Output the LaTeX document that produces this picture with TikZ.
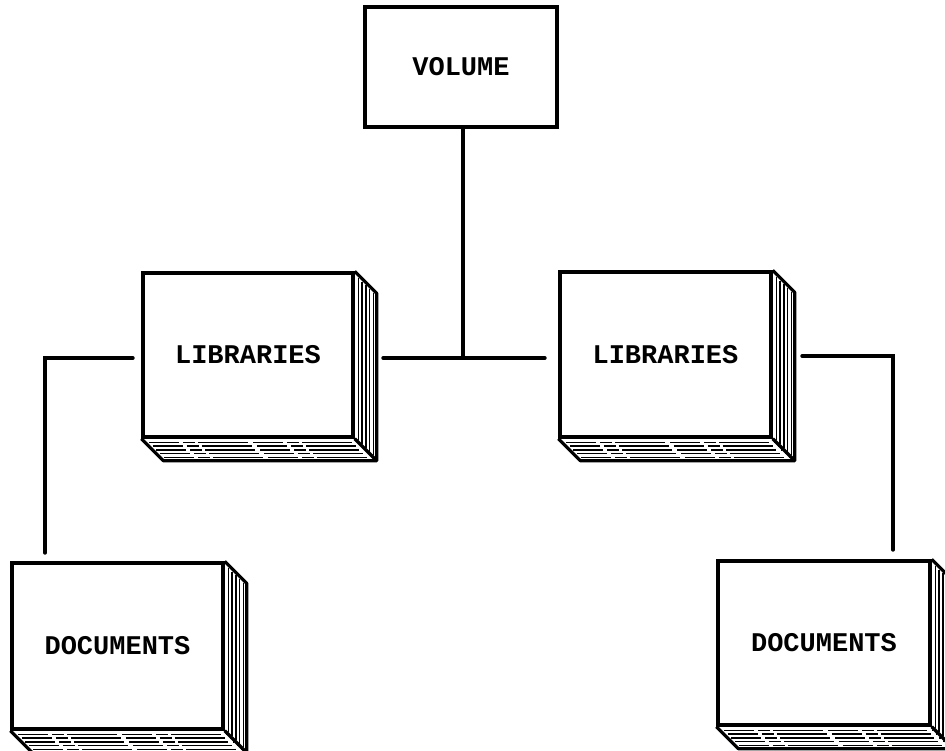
\documentclass[tikz,border=0pt]{standalone}
\usepackage{fontspec}
\setmonofont{Liberation Mono}
\usetikzlibrary{calc}
\tikzset{
  face/.style={draw, line width=3.4pt, fill=white, inner sep=0pt,
    font=\ttfamily\bfseries\fontsize{27}{30}\selectfont},
  link/.style={line width=3.4pt, line cap=round, line join=miter},
  edgethree/.style={line width=3.2pt, line join=round},
  pageline/.style={line width=1.4pt},
  pagedash/.style={line width=1.4pt, dash pattern=on 30pt off 4pt on 12pt off 3pt on 50pt off 5pt}
}
\newcommand\stackbox[6]{%
  \node[face, minimum width=#4pt, minimum height=#5pt] (#1) at (#2,#3) {#6};
  \draw[edgethree] (#1.north east) -- ($(#1.north east)+(22,22)$)
     -- ($(#1.south east)+(22,22)$) -- ($(#1.south west)+(22,22)$) -- (#1.south west);
  \draw[edgethree] (#1.south east) -- ($(#1.south east)+(22,22)$);
  \foreach \k in {1,...,5}{%
    \pgfmathsetmacro\t{\k*3.7}
    \draw[pageline] ($(#1.north east)+(\t,\t+3)$) -- ($(#1.south east)+(\t,\t-2)$);
    \draw[pagedash] ($(#1.south west)+(\t+4,\t)$) -- ($(#1.south east)+(\t-2,\t)$);
  }
}
\begin{document}
\begin{tikzpicture}[x=1pt,y=-1pt]
  \useasboundingbox (0,0) rectangle (945,750);
  \fill[white] (0,0) rectangle (945,750);
  % volume
  \node[face, minimum width=192pt, minimum height=120pt] (vol) at (461,67) {VOLUME};
  % stacks
  \stackbox{libL}{248}{355}{210}{164}{LIBRARIES}
  \stackbox{libR}{665.5}{354.5}{211}{165}{LIBRARIES}
  \stackbox{docL}{117.5}{646}{211}{166}{DOCUMENTS}
  \stackbox{docR}{824}{643}{212}{164}{DOCUMENTS}
  % connector coordinates
  \coordinate (hl) at (383,358);
  \coordinate (hr) at (545,358);
  \coordinate (la) at (133,358);
  \coordinate (ld) at (45,553);
  \coordinate (ra) at (802,356);
  \coordinate (rd) at (893,550);
  \draw[link] (vol.south -| 463,0) -- (463,358);
  \draw[link] (hl) -- (hr);
  \draw[link] (la) -| (ld);
  \draw[link] (ra) -| (rd);
\end{tikzpicture}
\end{document}
